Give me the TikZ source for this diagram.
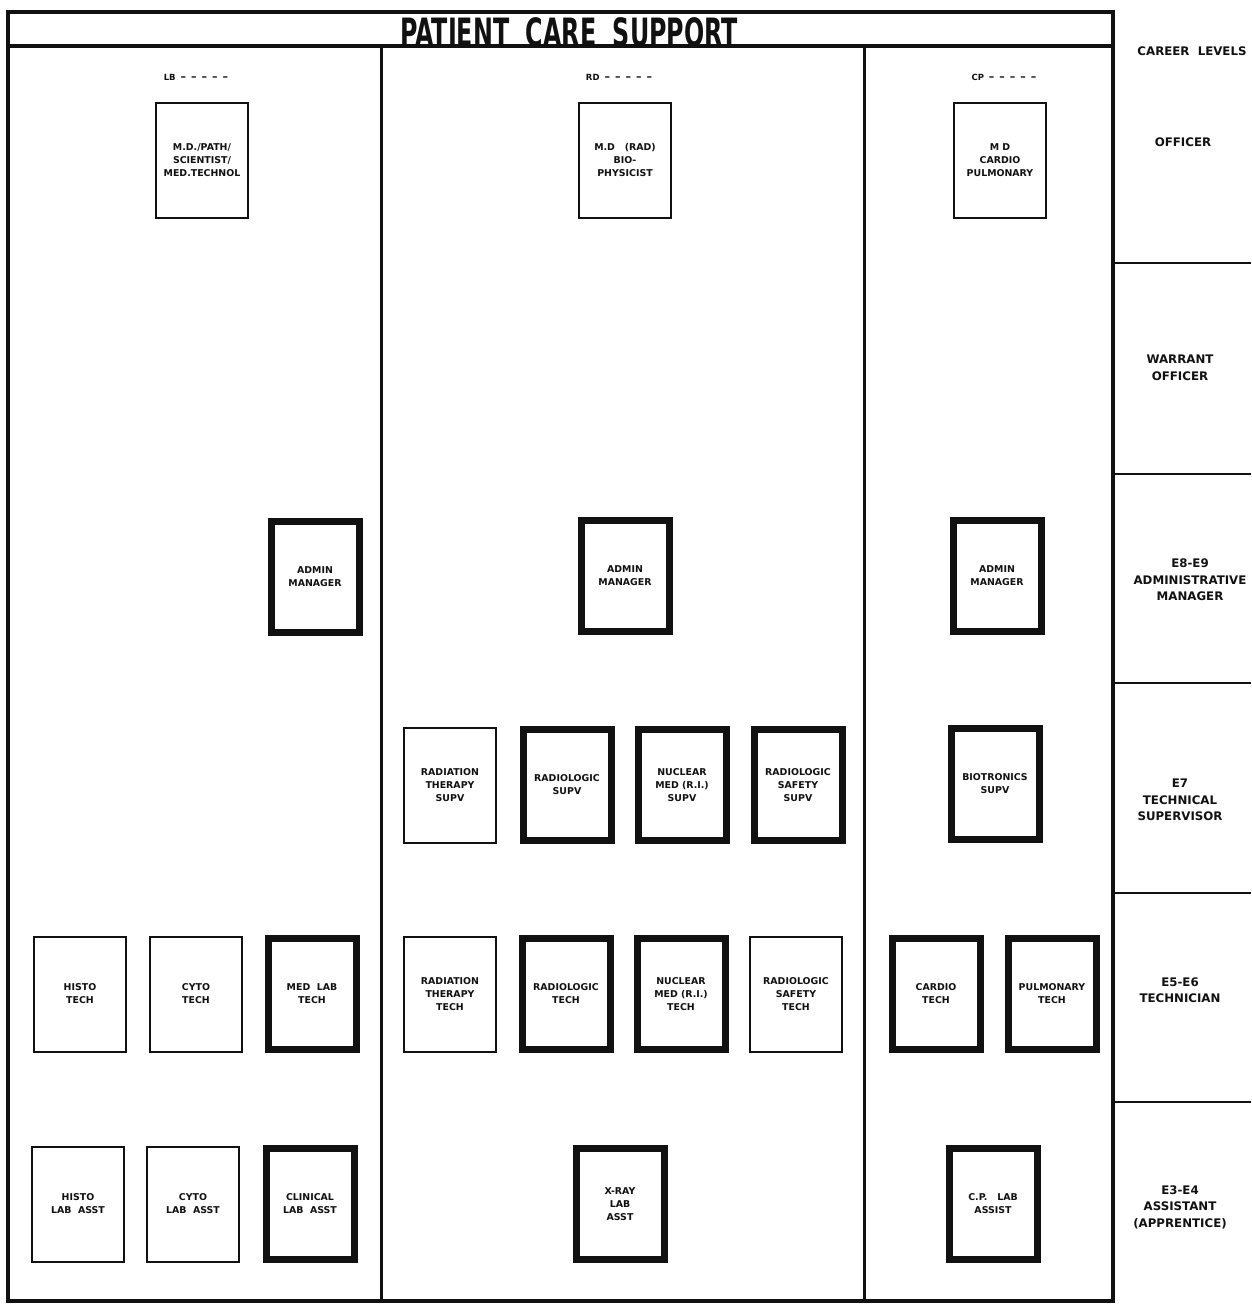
\documentclass[tikz,border=0pt]{standalone}
\usepackage{fontspec}
\setmainfont{DejaVu Sans}
\usetikzlibrary{positioning}
\definecolor{pcInk}{HTML}{111111}
\tikzset{
 chart/.style={line cap=butt,line join=miter,text=pcInk,
   font=\fontsize{9.4}{13}\selectfont\bfseries},
 post/.style={rectangle,draw=pcInk,fill=white,line width=2pt,align=center,
   inner sep=2pt,minimum width=92pt,minimum height=115pt},
 keypost/.style={post,line width=7pt,minimum width=88pt,minimum height=111pt},
 frame/.style={draw=pcInk,line width=3.5pt},
 rule/.style={draw=pcInk,line width=3pt},
 levelrule/.style={draw=pcInk,line width=2.5pt},
 level/.style={font=\fontsize{11.8}{16.5}\selectfont\bfseries,align=center},
 code/.style={font=\fontsize{8.5}{9}\selectfont\bfseries}
}
\newcommand{\pcDash}{{\fontsize{11}{11}\selectfont\hspace{5pt}–\hspace{5pt}–\hspace{5pt}–\hspace{5pt}–\hspace{5pt}–}}
\begin{document}
\begin{tikzpicture}[chart,x=1pt,y=-1pt]
 \useasboundingbox (0,0) rectangle (1251,1304);
 % frame, title band and columns
 \draw[frame] (8,12) rectangle (1113,1301);
 \draw[frame] (8,46) -- (1113,46);
 \draw[rule] (381,46) -- (381,1301);
 \draw[rule] (864,46) -- (864,1301);
 \foreach \y in {263,474,683,893,1102}
   \draw[levelrule] (1113,\y) -- (1251,\y);
 \node (title) at (569,32) {\fontsize{39}{39}\selectfont\scalebox{0.61}[1]{PATIENT\ \ CARE\ \ SUPPORT}};
 % career levels
 \node[level] (lvHead) at (1192,51) {CAREER\ \ LEVELS};
 \node[level] (lvOff) at (1183,142) {OFFICER};
 \node[level] (lvWo) at (1180,368) {WARRANT\\OFFICER};
 \node[level] (lvAdm) at (1190,580) {E8-E9\\ADMINISTRATIVE\\MANAGER};
 \node[level] (lvSup) at (1180,800) {E7\\TECHNICAL\\SUPERVISOR};
 \node[level] (lvTec) at (1180,990) {E5-E6\\TECHNICIAN};
 \node[level] (lvAst) at (1180,1207) {E3-E4\\ASSISTANT\\(APPRENTICE)};
 % column codes
 \node[code] (lbCode) at (196,77) {LB\pcDash};
 \node[code] (rdCode) at (619,77) {RD\pcDash};
 \node[code] (cpCode) at (1004,77) {CP\pcDash};
 % officer
 \node[post] (lbOff) at (202,160) {M.D./PATH/\\SCIENTIST/\\MED.TECHNOL};
 \node[post] (rdOff) at (625,160) {M.D\ \ \ (RAD)\\BIO-\\PHYSICIST};
 \node[post] (cpOff) at (1000,160) {M D\\CARDIO\\PULMONARY};
 % administrative manager
 \node[keypost] (lbAdm) at (315,577) {ADMIN\\MANAGER};
 \node[keypost] (rdAdm) at (625,576) {ADMIN\\MANAGER};
 \node[keypost] (cpAdm) at (997,576) {ADMIN\\MANAGER};
 % technical supervisor
 \node[post] (rdRtSup) at (450,785) {RADIATION\\THERAPY\\SUPV};
 \node[keypost] (rdRgSup) at (567,785) {RADIOLOGIC\\SUPV};
 \node[keypost] (rdNmSup) at (682,785) {NUCLEAR\\MED (R.I.)\\SUPV};
 \node[keypost] (rdSfSup) at (798,785) {RADIOLOGIC\\SAFETY\\SUPV};
 \node[keypost] (cpBioSup) at (995,784) {BIOTRONICS\\SUPV};
 % technician
 \node[post] (lbHisTech) at (80,994) {HISTO\\TECH};
 \node[post] (lbCytTech) at (196,994) {CYTO\\TECH};
 \node[keypost] (lbMedTech) at (312,994) {MED\ \ LAB\\TECH};
 \node[post] (rdRtTech) at (450,994) {RADIATION\\THERAPY\\TECH};
 \node[keypost] (rdRgTech) at (566,994) {RADIOLOGIC\\TECH};
 \node[keypost] (rdNmTech) at (681,994) {NUCLEAR\\MED (R.I.)\\TECH};
 \node[post] (rdSfTech) at (796,994) {RADIOLOGIC\\SAFETY\\TECH};
 \node[keypost] (cpCarTech) at (936,994) {CARDIO\\TECH};
 \node[keypost] (cpPulTech) at (1052,994) {PULMONARY\\TECH};
 % assistant
 \node[post] (lbHisAsst) at (78,1204) {HISTO\\LAB\ \ ASST};
 \node[post] (lbCytAsst) at (193,1204) {CYTO\\LAB\ \ ASST};
 \node[keypost] (lbClAsst) at (310,1204) {CLINICAL\\LAB\ \ ASST};
 \node[keypost] (rdXrAsst) at (620,1204) {X-RAY\\LAB\\ASST};
 \node[keypost] (cpLabAsst) at (993,1204) {C.P.\ \ \ LAB\\ASSIST};
\end{tikzpicture}
\end{document}
